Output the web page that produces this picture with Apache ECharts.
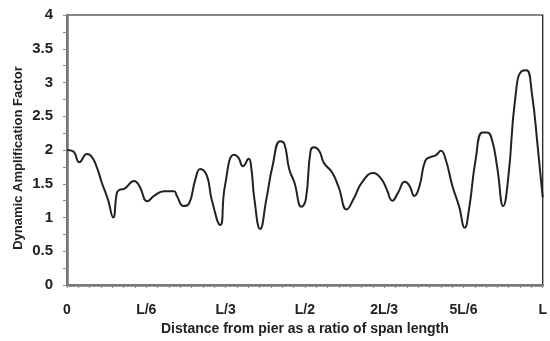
<!DOCTYPE html>
<html>
<head>
<meta charset="utf-8">
<script src="https://cdn.jsdelivr.net/npm/echarts@6/dist/echarts.min.js"></script>
<style>html,body{margin:0;padding:0;background:#fff}#c{width:550px;height:341px}</style>
</head>
<body>
<div id="c"></div>
<script>
// distance from pier as a fraction of span length L
var xRatio = [0.000,0.013,0.026,0.042,0.051,0.062,0.073,0.086,0.097,0.105,0.110,0.121,0.141,0.152,0.169,0.183,0.204,0.225,0.231,0.245,0.256,0.270,0.280,0.294,0.304,0.322,0.332,0.351,0.360,0.370,0.382,0.387,0.394,0.406,0.419,0.432,0.448,0.457,0.467,0.478,0.493,0.502,0.512,0.519,0.530,0.540,0.557,0.571,0.588,0.602,0.620,0.644,0.661,0.672,0.684,0.696,0.710,0.720,0.730,0.741,0.753,0.765,0.775,0.786,0.796,0.810,0.824,0.836,0.845,0.859,0.873,0.883,0.893,0.904,0.917,0.928,0.942,0.956,0.966,0.977,0.990,1.000];
var daf = [2.00,1.98,1.82,1.94,1.91,1.76,1.52,1.27,1.00,1.37,1.41,1.43,1.54,1.47,1.24,1.32,1.39,1.39,1.32,1.17,1.20,1.57,1.72,1.62,1.27,0.89,1.47,1.93,1.89,1.76,1.87,1.76,1.27,0.83,1.27,1.76,2.13,2.09,1.72,1.52,1.16,1.27,1.99,2.04,1.99,1.81,1.67,1.45,1.12,1.27,1.52,1.66,1.57,1.42,1.25,1.37,1.53,1.47,1.32,1.47,1.84,1.90,1.92,1.99,1.86,1.47,1.17,0.85,1.12,1.86,2.26,2.26,2.16,1.76,1.17,1.62,2.75,3.17,3.18,2.85,2.01,1.30];
var xTickLabels = ['0','L/6','L/3','L/2','2L/3','5L/6','L'];
var yTicks = [0,0.5,1,1.5,2,2.5,3,3.5,4];

var pts = xRatio.map(function(r,i){ return [r*6, daf[i]]; });
var font = '"Liberation Sans", Arial, sans-serif';
var chart = echarts.init(document.getElementById('c'), null, {renderer:'canvas'});
chart.setOption({
  animation:false,
  grid:{left:67,right:2,top:15,bottom:55,show:true,borderColor:'#111',borderWidth:1.2},
  xAxis:{
    type:'value',min:0,max:6,interval:1,
    name:'Distance from pier as a ratio of span length',
    nameLocation:'middle',nameGap:30,
    nameTextStyle:{fontFamily:font,fontWeight:'bold',fontSize:14,color:'#222'},
    axisLine:{show:true,onZero:false,lineStyle:{color:'#777',width:2.5}},
    axisTick:{show:true,inside:false,length:3,lineStyle:{color:'#888',width:1}},
    minorTick:{show:true,splitNumber:7,length:3,lineStyle:{color:'#888',width:1}},
    splitLine:{show:false},
    axisLabel:{margin:18,fontFamily:font,fontWeight:'bold',fontSize:14,color:'#222',
      formatter:function(v){ return xTickLabels[Math.round(v)]; }}
  },
  yAxis:{
    type:'value',min:yTicks[0],max:yTicks[yTicks.length-1],interval:0.5,
    name:'Dynamic Amplification Factor',
    nameLocation:'middle',nameGap:42,nameMoveOverlap:false,
    nameTextStyle:{fontFamily:font,fontWeight:'bold',fontSize:13,color:'#222',padding:[0,16,0,0]},
    axisLine:{show:true,lineStyle:{color:'#777',width:2.5}},
    axisTick:{show:true,length:4,lineStyle:{color:'#888',width:1}},
    minorTick:{show:true,splitNumber:2,length:4,lineStyle:{color:'#888',width:1}},
    splitLine:{show:false},
    axisLabel:{margin:14,fontFamily:font,fontWeight:'bold',fontSize:15,color:'#222'}
  },
  series:[{
    type:'line',data:pts,smooth:0.5,showSymbol:false,
    lineStyle:{color:'#222',width:2},
    clip:true
  }]
});
</script>
</body>
</html>
